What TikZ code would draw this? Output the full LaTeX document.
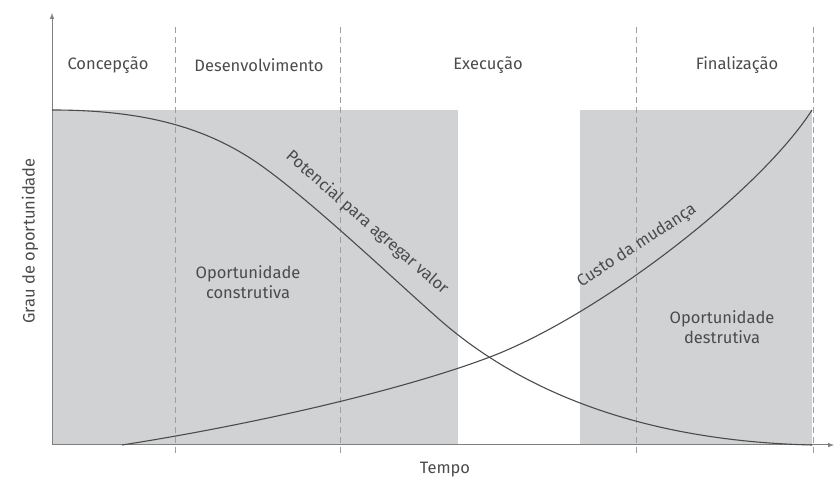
\documentclass[tikz,border=0pt]{standalone}
\usepackage{fontspec}
\setmainfont{Fira Sans}
\usepackage{tikz}
\usetikzlibrary{arrows,calc}
\definecolor{fase}{RGB}{208,210,212}
\definecolor{texto}{RGB}{75,75,75}
\begin{document}
\begin{tikzpicture}[x=1pt,y=1pt,
	rotulo/.style={text=texto,font=\fontsize{16.5}{20.5}\selectfont,align=center},
	curva/.style={draw=texto,line width=1.1pt},
	divisa/.style={draw=gray!75,dash pattern=on 6pt off 4pt,line width=0.8pt}]
	\useasboundingbox (0,0) rectangle (835,481);
	\fill[fase] (52,36) rectangle (458,371);
	\fill[fase] (580,36) rectangle (812,371);
	\foreach \x in {175,340,636,813}
		\draw[divisa] (\x,28) -- (\x,456);
	\coordinate (O) at (52,36);
	\coordinate (ytopo) at (52,468);
	\coordinate (xfim) at (834,36);
	\draw[gray,line width=1pt,-latex] (O) -- (ytopo);
	\draw[gray,line width=1pt,-latex] (O) -- (xfim);
	\node[rotulo] (concepcao) at (108,416) {Concepção};
	\node[rotulo] (desenv) at (259,416) {Desenvolvimento};
	\node[rotulo] (execucao) at (488,416) {Execução};
	\node[rotulo] (finaliz) at (737,416) {Finalização};
	\draw[curva] (52,371) .. controls (140,371) and (200,355) .. (250,323)
		.. controls (300,291) and (390,205) .. (440,161)
		.. controls (520,91) and (640,40) .. (812,36);
	\draw[curva] (122,36) .. controls (250,56) and (400,90) .. (490,124)
		.. controls (600,166) and (760,290) .. (812,371);
	\node[rotulo,rotate=-41] (potencial) at (367,258) {Potencial para agregar valor};
	\node[rotulo,rotate=33] (custo) at (637,235) {Custo da mudança};
	\node[rotulo] (construtiva) at (248,199) {Oportunidade\\construtiva};
	\node[rotulo] (destrutiva) at (722,154) {Oportunidade\\destrutiva};
	\node[rotulo,rotate=90] (grau) at (30,240) {Grau de oportunidade};
	\node[rotulo] (tempo) at (445,11) {Tempo};
\end{tikzpicture}
\end{document}
